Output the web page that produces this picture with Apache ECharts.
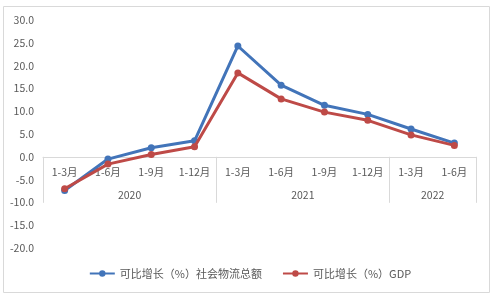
<!DOCTYPE html>
<html>
<head>
<meta charset="utf-8">
<script src="https://cdn.jsdelivr.net/npm/echarts@6/dist/echarts.min.js"></script>
<style>html,body{margin:0;padding:0;background:#fff}#c{width:500px;height:300px}</style>
</head>
<body>
<div id="c"></div>
<script>
const months = ['1-3月','1-6月','1-9月','1-12月','1-3月','1-6月','1-9月','1-12月','1-3月','1-6月'];
const yearSlots = ['', '', '2020', '', '', '', '2021', '', '', '2022', ''];
const groupEdges = [0, 4, 8, 10];
const logisticsName = '可比增长（%）社会物流总额';
const gdpName = '可比增长（%）GDP';
const logistics = [-7.4, -0.5, 2.0, 3.5, 24.3, 15.7, 11.3, 9.3, 6.1, 3.0];
const gdp = [-7.0, -1.6, 0.5, 2.2, 18.4, 12.7, 9.8, 8.0, 4.8, 2.5];
const yTicks = {min: -20, max: 30, interval: 5};

const font = '"Noto Sans CJK SC", "Noto Sans", sans-serif';
const plotTop = 20, plotBottom = 52, chartH = 300;
const zeroFrac = yTicks.max / (yTicks.max - yTicks.min);
const upperHeight = (chartH - plotTop - plotBottom) * zeroFrac;

const chart = echarts.init(document.getElementById('c'));
chart.setOption({
  animation: false,
  textStyle: {fontFamily: font},
  graphic: [{type: 'rect', shape: {x: 3.5, y: 6.5, width: 486, height: 286}, style: {fill: 'none', stroke: '#d9d9d9', lineWidth: 1}}],
  grid: [
    {left: 43, right: 24, top: plotTop, bottom: plotBottom},
    {left: 43, right: 24, top: plotTop, height: upperHeight}
  ],
  legend: {
    bottom: 16, left: 'center', itemWidth: 25, itemHeight: 8, itemGap: 20,
    textStyle: {color: '#595959', fontSize: 11, fontFamily: font},
    data: [logisticsName, gdpName]
  },
  xAxis: [{
    gridIndex: 0, type: 'category', data: months, show: false
  }, {
    gridIndex: 1, type: 'category', data: months, position: 'bottom',
    axisLine: {onZero: false, lineStyle: {color: '#d9d9d9'}},
    axisTick: {show: false},
    axisLabel: {color: '#595959', fontSize: 10.5, margin: 10, interval: 0}
  }, {
    gridIndex: 1, type: 'category', data: yearSlots, position: 'bottom', boundaryGap: false,
    axisLine: {show: false, onZero: false},
    axisTick: {show: true, length: 46, interval: (i) => groupEdges.indexOf(i) >= 0, lineStyle: {color: '#d9d9d9'}},
    axisLabel: {color: '#595959', fontSize: 10.5, margin: 33, interval: 0}
  }],
  yAxis: [{
    gridIndex: 0, type: 'value', min: yTicks.min, max: yTicks.max, interval: yTicks.interval,
    axisLine: {show: false}, axisTick: {show: false}, splitLine: {show: false},
    axisLabel: {color: '#595959', fontSize: 10.5, margin: 9, formatter: (v) => v.toFixed(1)}
  }, {
    gridIndex: 1, type: 'value', min: 0, max: yTicks.max, show: false
  }],
  series: [{
    name: logisticsName, type: 'line', data: logistics, xAxisIndex: 0, yAxisIndex: 0,
    symbol: 'circle', symbolSize: 7, lineStyle: {width: 3, color: '#4274B9'},
    itemStyle: {color: '#4274B9'}, z: 3
  }, {
    name: gdpName, type: 'line', data: gdp, xAxisIndex: 0, yAxisIndex: 0,
    symbol: 'circle', symbolSize: 7, lineStyle: {width: 3, color: '#BE4A47'},
    itemStyle: {color: '#BE4A47'}, z: 4
  }]
});
</script>
</body>
</html>
